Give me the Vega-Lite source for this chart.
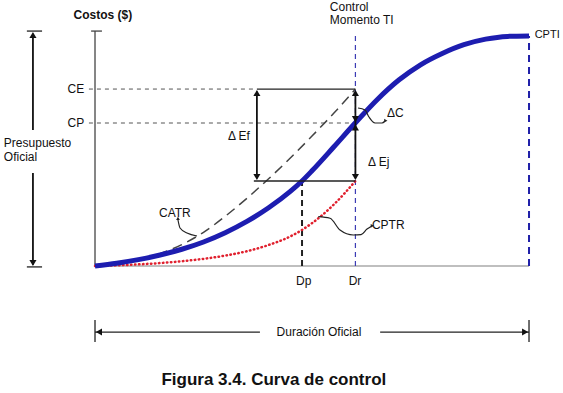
{
  "$schema": "https://vega.github.io/schema/vega-lite/v6.json",
  "width": 563,
  "height": 393,
  "autosize": {"type": "none"},
  "padding": 0,
  "background": "white",
  "config": {"view": {"stroke": null}, "text": {"font": "Liberation Sans", "fontSize": 12, "color": "#111"}},
  "datasets": {
    "rules": [
      {"g": "ax", "t": 0, "c": 0, "t2": 0, "c2": 101.7},
      {"g": "ax", "t": -0.9, "c": 101.7, "t2": 1.6, "c2": 101.7},
      {"g": "base", "t": 0, "c": 0, "t2": 100, "c2": 0},
      {"g": "guide", "t": -1.4, "c": 76.6, "t2": 37.3, "c2": 76.6},
      {"g": "guide", "t": -1.4, "c": 61.9, "t2": 60, "c2": 61.9},
      {"g": "blk", "t": 37.3, "c": 76.6, "t2": 60, "c2": 76.6},
      {"g": "blk", "t": 36.6, "c": 36.8, "t2": 60, "c2": 36.8},
      {"g": "blk", "t": -15.7, "c": 101.7, "t2": -12.2, "c2": 101.7},
      {"g": "blk", "t": -15.7, "c": -0.4, "t2": -12.2, "c2": -0.4},
      {"g": "blk", "t": 0, "c": -23.4, "t2": 0, "c2": -32.9},
      {"g": "blk", "t": 100, "c": -23.4, "t2": 100, "c2": -32.9},
      {"g": "blk", "t": 0, "c": -28.6, "t2": 38.0, "c2": -28.6},
      {"g": "blk", "t": 65.7, "c": -28.6, "t2": 100, "c2": -28.6},
      {"g": "arr", "t": 37.3, "c": 38, "t2": 37.3, "c2": 75.5},
      {"g": "arr", "t": 60, "c": 38, "t2": 60, "c2": 75.5},
      {"g": "arr", "t": -14.3, "c": 58.9, "t2": -14.3, "c2": 100.5},
      {"g": "arr", "t": -14.3, "c": 40.3, "t2": -14.3, "c2": 0.5},
      {"g": "dr", "t": 60, "c": 0, "t2": 60, "c2": 100},
      {"g": "end", "t": 100, "c": 0, "t2": 100, "c2": 99.6},
      {"g": "dp", "t": 47.7, "c": 0, "t2": 47.7, "c2": 36.8}
    ],
    "curves": [
      {"g": "cpti", "t": 0, "c": 0},
      {"g": "cpti", "t": 5, "c": 1.2},
      {"g": "cpti", "t": 10, "c": 2.75},
      {"g": "cpti", "t": 15, "c": 4.75},
      {"g": "cpti", "t": 20, "c": 7.25},
      {"g": "cpti", "t": 25, "c": 10.4},
      {"g": "cpti", "t": 30, "c": 14.4},
      {"g": "cpti", "t": 35, "c": 19.3},
      {"g": "cpti", "t": 40, "c": 25.2},
      {"g": "cpti", "t": 45, "c": 32.3},
      {"g": "cpti", "t": 47.7, "c": 36.8},
      {"g": "cpti", "t": 50, "c": 41.2},
      {"g": "cpti", "t": 55, "c": 51.5},
      {"g": "cpti", "t": 60, "c": 62.0},
      {"g": "cpti", "t": 65, "c": 72.0},
      {"g": "cpti", "t": 70, "c": 80.5},
      {"g": "cpti", "t": 75, "c": 87.1},
      {"g": "cpti", "t": 80, "c": 92.0},
      {"g": "cpti", "t": 85, "c": 95.8},
      {"g": "cpti", "t": 90, "c": 98.2},
      {"g": "cpti", "t": 95, "c": 99.4},
      {"g": "cpti", "t": 100, "c": 99.6},
      {"g": "catr", "t": 0, "c": 0},
      {"g": "catr", "t": 5, "c": 1.05},
      {"g": "catr", "t": 10, "c": 2.75},
      {"g": "catr", "t": 15, "c": 5.35},
      {"g": "catr", "t": 20, "c": 9.25},
      {"g": "catr", "t": 25, "c": 14.6},
      {"g": "catr", "t": 30, "c": 21.5},
      {"g": "catr", "t": 35, "c": 29.3},
      {"g": "catr", "t": 40, "c": 37.75},
      {"g": "catr", "t": 45, "c": 46.75},
      {"g": "catr", "t": 50, "c": 56.25},
      {"g": "catr", "t": 55, "c": 66.1},
      {"g": "catr", "t": 60, "c": 76.6},
      {"g": "cptr", "t": 0, "c": 0},
      {"g": "cptr", "t": 10, "c": 0.7},
      {"g": "cptr", "t": 20, "c": 2.05},
      {"g": "cptr", "t": 30, "c": 4.5},
      {"g": "cptr", "t": 35, "c": 6.4},
      {"g": "cptr", "t": 40, "c": 9.1},
      {"g": "cptr", "t": 45, "c": 12.8},
      {"g": "cptr", "t": 50, "c": 18.55},
      {"g": "cptr", "t": 55, "c": 26.55},
      {"g": "cptr", "t": 60, "c": 36.8}
    ],
    "curls": [
      {"g": "a", "t": 19.12, "c": 19.91},
      {"g": "a", "t": 19.59, "c": 16.45},
      {"g": "a", "t": 21.2, "c": 14.29},
      {"g": "a", "t": 23.5, "c": 12.99},
      {"g": "b", "t": 51.45, "c": 21.34},
      {"g": "b", "t": 54.15, "c": 20.65},
      {"g": "b", "t": 56.45, "c": 15.58},
      {"g": "b", "t": 59.52, "c": 13.42},
      {"g": "b", "t": 61.3, "c": 13.6},
      {"g": "b", "t": 62.67, "c": 16.0},
      {"g": "b", "t": 63.6, "c": 17.1},
      {"g": "d", "t": 60.6, "c": 68.4},
      {"g": "d", "t": 62.2, "c": 67.53},
      {"g": "d", "t": 63.13, "c": 64.5},
      {"g": "d", "t": 64.52, "c": 61.9},
      {"g": "d", "t": 66.13, "c": 61.9},
      {"g": "d", "t": 66.82, "c": 62.77}
    ],
    "heads": [
      {"g": "up", "t": 37.3, "c": 74.9},
      {"g": "up", "t": 60, "c": 74.9},
      {"g": "up", "t": 60, "c": 60.0},
      {"g": "up", "t": -14.3, "c": 100.0},
      {"g": "down", "t": 37.3, "c": 38.5},
      {"g": "down", "t": 60, "c": 63.6},
      {"g": "down", "t": 60, "c": 38.5},
      {"g": "down", "t": -14.3, "c": 1.3},
      {"g": "left", "t": 0.9, "c": -28.6},
      {"g": "right", "t": 99.1, "c": -28.6},
      {"g": "sup", "t": 19.12, "c": 20.6},
      {"g": "sright", "t": 63.9, "c": 17.4},
      {"g": "sright", "t": 67.0, "c": 62.9}
    ],
    "labels": [
      {"g": "center", "t": 48.1, "c": -6.5, "s": "Dp"},
      {"g": "center", "t": 59.9, "c": -6.5, "s": "Dr"},
      {"g": "center", "t": 51.6, "c": -28.6, "s": "Duración Oficial"},
      {"g": "center", "t": 18.4, "c": 22.9, "s": "CATR"},
      {"g": "left", "t": 54.1, "c": 112.1, "s": "Control"},
      {"g": "left", "t": 54.1, "c": 106.5, "s": "Momento TI"},
      {"g": "left", "t": -21.0, "c": 53.2, "s": "Presupuesto"},
      {"g": "left", "t": -21.0, "c": 47.2, "s": "Oficial"},
      {"g": "left", "t": 67.3, "c": 66.2, "s": "ΔC"},
      {"g": "left", "t": 62.9, "c": 45, "s": "Δ Ej"},
      {"g": "left", "t": 63.8, "c": 17.7, "s": "CPTR"},
      {"g": "right", "t": -2.5, "c": 76.6, "s": "CE"},
      {"g": "right", "t": -2.5, "c": 61.9, "s": "CP"},
      {"g": "right", "t": 35.7, "c": 56.3, "s": "Δ Ef"},
      {"g": "edge", "t": 101.3, "c": 100, "s": "CPTI"},
      {"g": "bold", "t": 1.8, "c": 108.7, "s": "Costos ($)"},
      {"g": "title", "t": 41.2, "c": -49.4, "s": "Figura 3.4. Curva de control"}
    ]
  },
  "encoding": {
    "x": {"field": "t", "type": "quantitative", "scale": {"domain": [-21.89, 107.83], "nice": false, "zero": false}, "axis": null},
    "y": {"field": "c", "type": "quantitative", "scale": {"domain": [-54.98, 115.15], "nice": false, "zero": false}, "axis": null}
  },
  "layer": [
    {"data": {"name": "rules"}, "transform": [{"filter": "datum.g === 'base'"}], "mark": {"type": "rule", "color": "#aaa", "strokeWidth": 1.5}, "encoding": {"x2": {"field": "t2"}, "y2": {"field": "c2"}}},
    {"data": {"name": "rules"}, "transform": [{"filter": "datum.g === 'ax'"}], "mark": {"type": "rule", "color": "#444", "strokeWidth": 1.3}, "encoding": {"x2": {"field": "t2"}, "y2": {"field": "c2"}}},
    {"data": {"name": "rules"}, "transform": [{"filter": "datum.g === 'guide'"}], "mark": {"type": "rule", "color": "#555", "strokeWidth": 1, "strokeDash": [4, 4]}, "encoding": {"x2": {"field": "t2"}, "y2": {"field": "c2"}}},
    {"data": {"name": "rules"}, "transform": [{"filter": "datum.g === 'dr'"}], "mark": {"type": "rule", "color": "#3c3cb4", "strokeWidth": 1.2, "strokeDash": [5, 4]}, "encoding": {"x2": {"field": "t2"}, "y2": {"field": "c2"}}},
    {"data": {"name": "rules"}, "transform": [{"filter": "datum.g === 'end'"}], "mark": {"type": "rule", "color": "#2020a8", "strokeWidth": 2, "strokeDash": [7, 5]}, "encoding": {"x2": {"field": "t2"}, "y2": {"field": "c2"}}},
    {"data": {"name": "rules"}, "transform": [{"filter": "datum.g === 'dp'"}], "mark": {"type": "rule", "color": "#222", "strokeWidth": 2, "strokeDash": [6, 4]}, "encoding": {"x2": {"field": "t2"}, "y2": {"field": "c2"}}},
    {"data": {"name": "curves"}, "transform": [{"filter": "datum.g === 'cptr'"}], "mark": {"type": "line", "color": "#e0202e", "strokeWidth": 2.5, "strokeDash": [0.5, 3.5], "strokeCap": "round", "interpolate": "monotone"}, "encoding": {}},
    {"data": {"name": "curves"}, "transform": [{"filter": "datum.g === 'catr'"}], "mark": {"type": "line", "color": "#444", "strokeWidth": 1.5, "strokeDash": [10, 6], "interpolate": "monotone"}, "encoding": {}},
    {"data": {"name": "curves"}, "transform": [{"filter": "datum.g === 'cpti'"}], "mark": {"type": "line", "color": "#1d1db0", "strokeWidth": 5, "interpolate": "monotone"}, "encoding": {}},
    {"data": {"name": "rules"}, "transform": [{"filter": "datum.g === 'blk'"}], "mark": {"type": "rule", "color": "#222", "strokeWidth": 1.3}, "encoding": {"x2": {"field": "t2"}, "y2": {"field": "c2"}}},
    {"data": {"name": "rules"}, "transform": [{"filter": "datum.g === 'arr'"}], "mark": {"type": "rule", "color": "#111", "strokeWidth": 1.8}, "encoding": {"x2": {"field": "t2"}, "y2": {"field": "c2"}}},
    {"data": {"name": "curls"}, "mark": {"type": "line", "color": "#222", "strokeWidth": 1.2, "interpolate": "monotone"}, "encoding": {"detail": {"field": "g"}}},
    {"data": {"name": "heads"}, "transform": [{"filter": "datum.g === 'up'"}], "mark": {"type": "point", "shape": "triangle-up", "filled": true, "color": "#111", "size": 50, "opacity": 1}},
    {"data": {"name": "heads"}, "transform": [{"filter": "datum.g === 'down'"}], "mark": {"type": "point", "shape": "triangle-down", "filled": true, "color": "#111", "size": 50, "opacity": 1}},
    {"data": {"name": "heads"}, "transform": [{"filter": "datum.g === 'left'"}], "mark": {"type": "point", "shape": "triangle-left", "filled": true, "color": "#111", "size": 50, "opacity": 1}},
    {"data": {"name": "heads"}, "transform": [{"filter": "datum.g === 'right'"}], "mark": {"type": "point", "shape": "triangle-right", "filled": true, "color": "#111", "size": 50, "opacity": 1}},
    {"data": {"name": "heads"}, "transform": [{"filter": "datum.g === 'sup'"}], "mark": {"type": "point", "shape": "triangle-up", "filled": true, "color": "#222", "size": 14, "opacity": 1}},
    {"data": {"name": "heads"}, "transform": [{"filter": "datum.g === 'sright'"}], "mark": {"type": "point", "shape": "triangle-right", "filled": true, "color": "#222", "size": 14, "opacity": 1}},
    {"data": {"name": "labels"}, "transform": [{"filter": "datum.g === 'center'"}], "mark": {"type": "text", "align": "center", "baseline": "middle"}, "encoding": {"text": {"field": "s"}}},
    {"data": {"name": "labels"}, "transform": [{"filter": "datum.g === 'left'"}], "mark": {"type": "text", "align": "left", "baseline": "middle"}, "encoding": {"text": {"field": "s"}}},
    {"data": {"name": "labels"}, "transform": [{"filter": "datum.g === 'edge'"}], "mark": {"type": "text", "align": "left", "baseline": "middle", "fontSize": 11}, "encoding": {"text": {"field": "s"}}},
    {"data": {"name": "labels"}, "transform": [{"filter": "datum.g === 'right'"}], "mark": {"type": "text", "align": "right", "baseline": "middle"}, "encoding": {"text": {"field": "s"}}},
    {"data": {"name": "labels"}, "transform": [{"filter": "datum.g === 'bold'"}], "mark": {"type": "text", "align": "center", "baseline": "middle", "fontWeight": "bold", "fontSize": 12}, "encoding": {"text": {"field": "s"}}},
    {"data": {"name": "labels"}, "transform": [{"filter": "datum.g === 'title'"}], "mark": {"type": "text", "align": "center", "baseline": "middle", "fontWeight": "bold", "fontSize": 17}, "encoding": {"text": {"field": "s"}}}
  ]
}
